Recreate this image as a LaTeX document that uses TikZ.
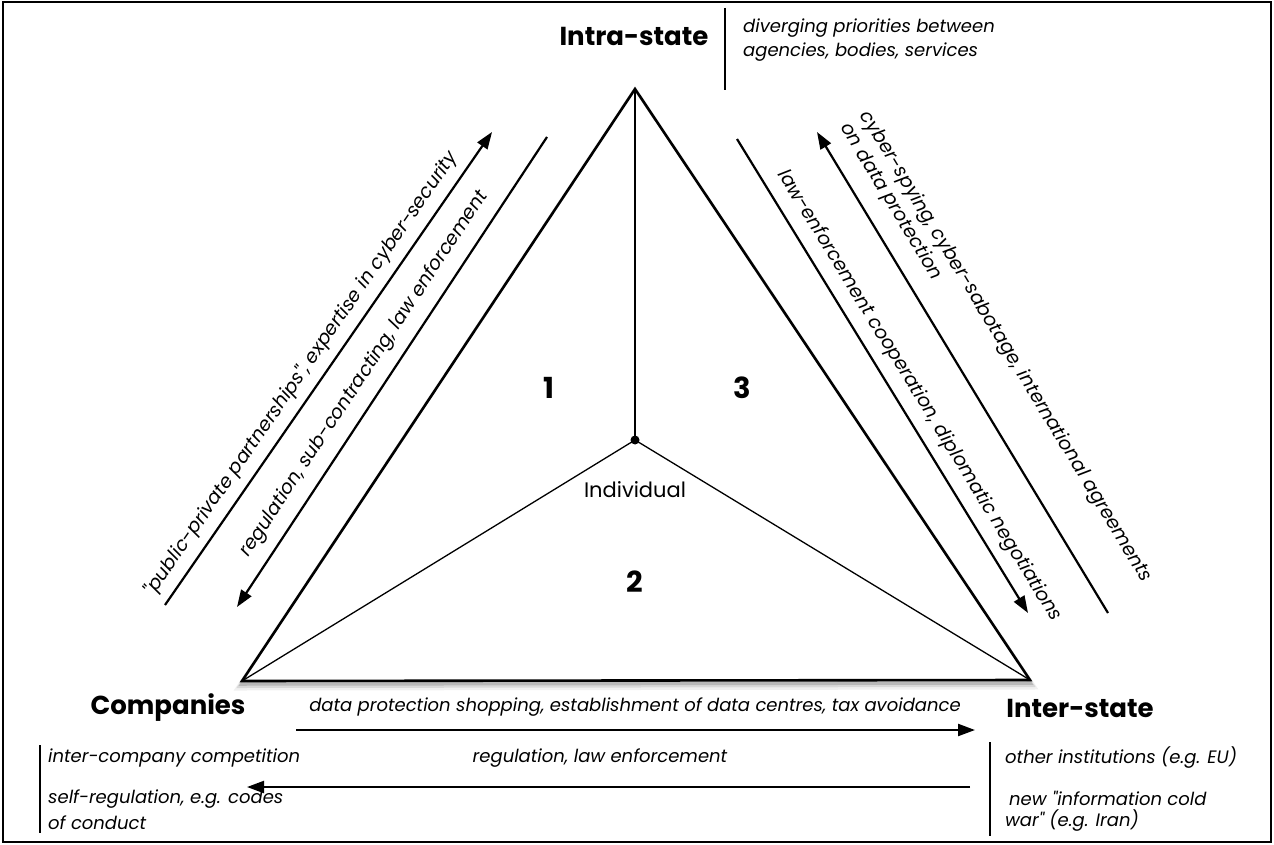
\documentclass[tikz,border=0pt]{standalone}
\usepackage{fontspec}
\setmainfont{Poppins}[Ligatures=TeXOff]
\usetikzlibrary{arrows.meta,calc}
\begin{document}
\begin{tikzpicture}[x=1pt,y=-1pt,
  lab/.style={font=\fontsize{18}{24}\selectfont\itshape, inner sep=0pt},
  rlab/.style={font=\fontsize{19}{23}\selectfont\itshape, inner sep=0pt},
  head/.style={font=\fontsize{26}{30}\selectfont\bfseries, inner sep=0pt},
  num/.style={font=\fontsize{29}{32}\selectfont\bfseries, inner sep=0pt},
  arr/.style={line width=2.2pt, -{Triangle[length=17pt,width=12pt]}},
  thin/.style={line width=1.3pt},
  bar/.style={line width=1.2pt}]
\useasboundingbox (0,0) rectangle (1274,845);
\draw[line width=2.5pt] (3,2) rectangle (1271,842);

% triangle
\coordinate (A) at (635,89);
\coordinate (L) at (242,681);
\coordinate (R) at (1030,680);
\coordinate (C) at (635,440);
\foreach \s/\w/\o in {5/9/0.06,4/6/0.10,3/3.5/0.15}{
  \draw[line width=\w pt, black, opacity=\o, line join=miter]
    ($(A)+(0,\s)$) -- ($(L)+(0,\s)$) -- ($(R)+(0,\s)$) -- cycle;
}
\draw[line width=2.6pt, line join=miter, fill=white] (A) -- (L) -- (R) -- cycle;
\draw[thin] (C) -- (A);
\draw[thin] (C) -- (L);
\draw[thin] (C) -- (R);
\fill (C) circle (4.5);

\node[num] (n1) at (549,388) {1};
\node[num] (n3) at (742,388) {3};
\node[num] (n2) at (635,582) {2};
\node[font=\fontsize{21}{24}\selectfont, inner sep=0pt] (ind) at (635,490) {Individual};

% vertex labels
\node[head] (intra) at (634,36) {Intra-state};
\node[head] (comp) at (168,708) {Companies};
\node[head] (inter) at (1080,708) {Inter-state};

% top note
\coordinate (tb1) at (725,8);
\coordinate (tb2) at (725,90);
\draw[bar] (tb1) -- (tb2);
\node[lab, anchor=west] (d1) at (743,28) {diverging priorities between};
\node[lab, anchor=west] (d2) at (743,52) {agencies, bodies, services};

% left arrows
\coordinate (lo1) at (165,605);
\coordinate (lo2) at (492,132);
\draw[arr] (lo1) -- node[rlab, pos=0.465, sloped, above=8pt] (tlo) {"public-private partnerships", expertise in cyber-security} (lo2);
\coordinate (li1) at (547,137);
\coordinate (li2) at (237,607);
\draw[arr] (li1) -- node[rlab, pos=0.53, sloped, above=11pt] (tli) {regulation, sub-contracting, law enforcement} (li2);

% right arrows
\coordinate (ri1) at (737,139);
\coordinate (ri2) at (1028,613);
\draw[arr] (ri1) -- node[rlab, pos=0.565, sloped, above=10pt] (tri) {law-enforcement cooperation, diplomatic negotiations} (ri2);
\coordinate (ro1) at (817,132);
\coordinate (ro2) at (1108,613);
\draw[arr] (ro2) -- (ro1);
\coordinate (P) at ($(ro1)!8pt!(ro2)$);
\coordinate (Q) at ($(P)!17pt!90:(ro2)$);
\node[rlab, rotate=-58.8, anchor=south west, align=left] (tro) at (Q) {cyber-spying, cyber-sabotage, international agreements\\on data protection};

% bottom arrows
\coordinate (b1) at (296,730);
\coordinate (b2) at (975,730);
\draw[arr] (b1) -- (b2);
\node[lab] (tb) at (635,707) {data protection shopping, establishment of data centres, tax avoidance};
\coordinate (c1) at (970,787);
\coordinate (c2) at (247,787);
\draw[arr] (c1) -- (c2);
\node[lab] (tc) at (600,758) {regulation, law enforcement};

% left notes
\coordinate (lb1) at (40,745);
\coordinate (lb2) at (40,833);
\draw[bar] (lb1) -- (lb2);
\node[lab, anchor=west] (l1) at (48,758) {inter-company competition};
\node[lab, anchor=west] (l2) at (48,799) {self-regulation, e.g. codes};
\node[lab, anchor=west] (l3) at (48,823) {of conduct};

% right notes
\coordinate (rb1) at (990,742);
\coordinate (rb2) at (990,836);
\draw[bar] (rb1) -- (rb2);
\node[lab, anchor=west] (r1) at (1005,758) {other institutions (e.g. EU)};
\node[lab, anchor=west] (r2) at (1009,798) {new "information cold};
\node[lab, anchor=west] (r3) at (1005,821) {war" (e.g. Iran)};
\end{tikzpicture}
\end{document}
